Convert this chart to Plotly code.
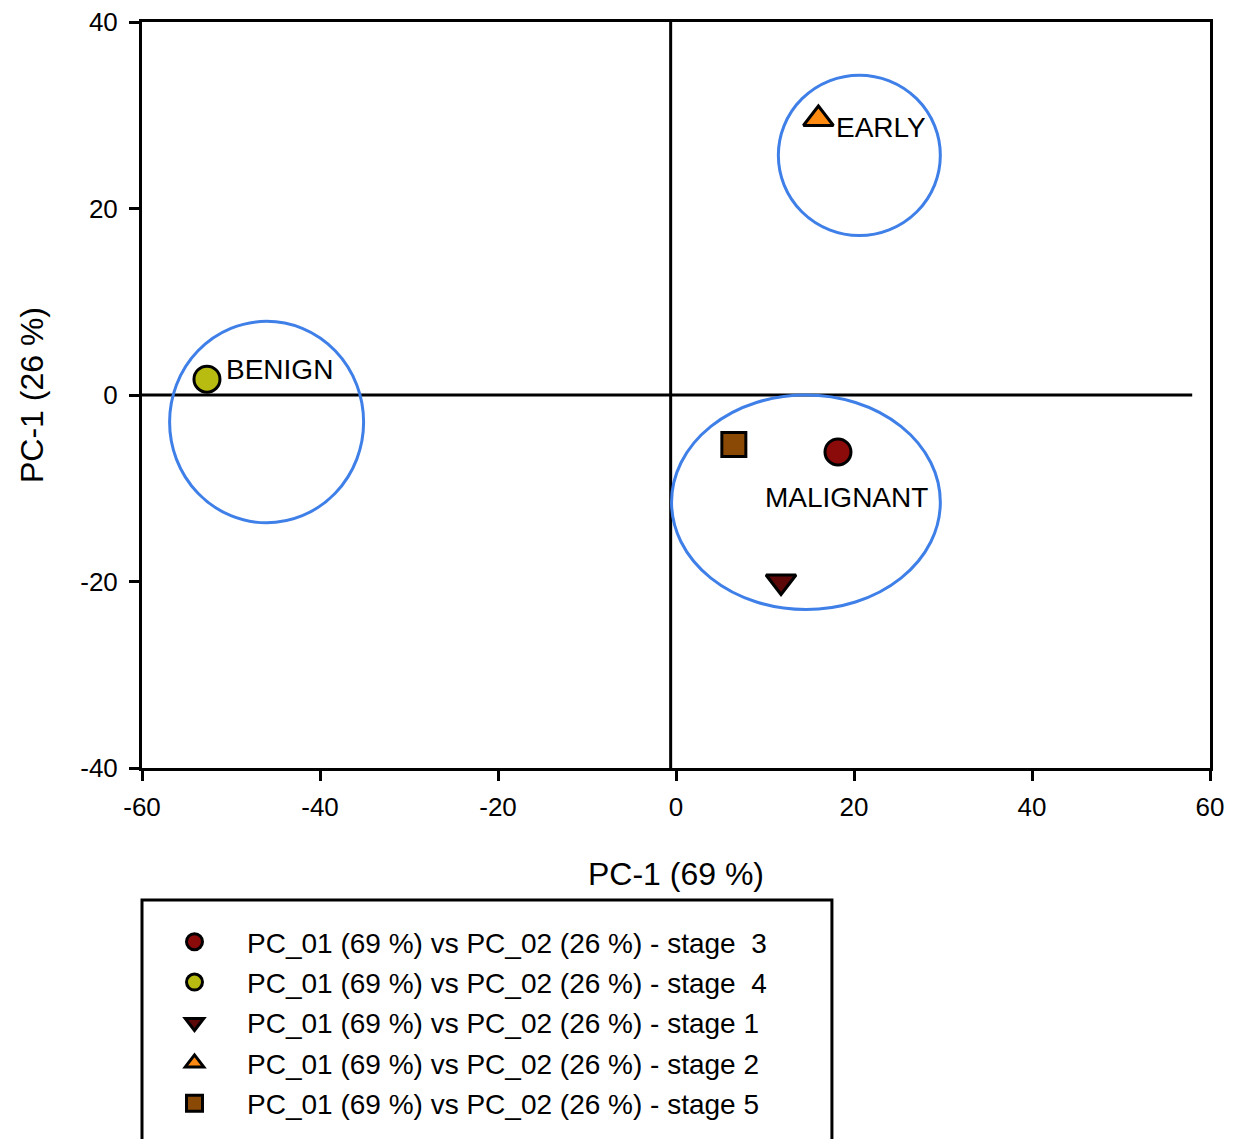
import plotly.graph_objects as go

stages = ["stage  3", "stage  4", "stage 1", "stage 2", "stage 5"]
pc1 = [18.2, -52.7, 11.8, 16.0, 6.5]
pc2 = [-6.1, 1.7, -20.0, 29.6, -5.3]
symbols = ["circle", "circle", "triangle-down", "triangle-up", "square"]
colors = ["#8b0a0a", "#b8bb10", "#5c0808", "#ff8a12", "#8a4a06"]
sizes = [26, 26, 26, 26, 24]

groups = ["BENIGN", "EARLY", "MALIGNANT"]
group_cx = [-46.0, 20.6, 14.6]
group_cy = [-2.9, 25.7, -11.5]
group_rx = [10.9, 9.1, 15.1]
group_ry = [10.8, 8.6, 11.5]
label_x = [-50.8, 17.8, 9.8]
label_y = [2.7, 28.7, -11.0]

x_ticks = [-60, -40, -20, 0, 20, 40, 60]
x_ticktext = ["-60", "-40", "-20", "0", "20", "40", "60"]
y_ticks = [-40, -20, 0, 20, 40]
y_ticktext = ["-40", "-20", "0", "20", "40"]

FONT = "Liberation Sans, Arial, sans-serif"

fig = go.Figure()

shapes = []
# quadrant lines
shapes.append(dict(type="line", xref="x", yref="y", x0=-60, x1=58, y0=0, y1=0,
                   line=dict(color="black", width=3), layer="below"))
shapes.append(dict(type="line", xref="x", yref="y", x0=-0.6, x1=-0.6, y0=-40, y1=40.5,
                   line=dict(color="black", width=3), layer="below"))
for cx, cy, rx, ry in zip(group_cx, group_cy, group_rx, group_ry):
    shapes.append(dict(type="circle", xref="x", yref="y",
                       x0=cx - rx, x1=cx + rx, y0=cy - ry, y1=cy + ry,
                       line=dict(color="#3f7fe8", width=3), layer="below"))
# legend frame
shapes.append(dict(type="rect", xref="paper", yref="paper",
                   x0=0, x1=0.646, y0=-0.177, y1=-0.505,
                   line=dict(color="black", width=3)))

for i, (s, x, y, sym, c, sz) in enumerate(zip(stages, pc1, pc2, symbols, colors, sizes)):
    fig.add_trace(go.Scatter(
        x=[x], y=[y], mode="markers",
        name=f"PC_01 (69 %) vs PC_02 (26 %) - {s}",
        legendgroup=f"g{i}",
        marker=dict(symbol=sym, color=c, size=sz, line=dict(color="black", width=3)),
    ))

annotations = []
for g, lx, ly in zip(groups, label_x, label_y):
    annotations.append(dict(x=lx, y=ly, xref="x", yref="y", text=g, showarrow=False,
                            xanchor="left", yanchor="middle",
                            font=dict(family=FONT, size=28, color="black")))

fig.update_layout(
    width=1237, height=1139,
    margin=dict(l=142, r=27, t=22, b=371, autoexpand=False),
    plot_bgcolor="white", paper_bgcolor="white",
    font=dict(family=FONT, color="black"),
    shapes=shapes, annotations=annotations,
    showlegend=True,
    legend=dict(
        x=0, y=-0.1997, xanchor="left", yanchor="top",
        borderwidth=0, bgcolor="rgba(0,0,0,0)",
        font=dict(family=FONT, size=28, color="black"),
        itemsizing="trace", itemwidth=95, tracegroupgap=1,
    ),
    xaxis=dict(
        range=[-60, 60], tickvals=x_ticks, ticktext=x_ticktext,
        showgrid=False, zeroline=False, showline=True, linecolor="black", linewidth=3,
        mirror=True, ticks="outside", ticklen=10, tickwidth=3, tickcolor="black",
        tickfont=dict(family=FONT, size=26), ticklabelstandoff=4,
        title=dict(text="PC-1 (69 %)", font=dict(family=FONT, size=32), standoff=42),
    ),
    yaxis=dict(
        range=[-40, 40], tickvals=y_ticks, ticktext=y_ticktext,
        showgrid=False, zeroline=False, showline=True, linecolor="black", linewidth=3,
        mirror=True, ticks="outside", ticklen=10, tickwidth=3, tickcolor="black",
        tickfont=dict(family=FONT, size=26), ticklabelstandoff=6,
        title=dict(text="PC-1 (26 %)", font=dict(family=FONT, size=32), standoff=28),
    ),
)

fig.write_html("out.html")
